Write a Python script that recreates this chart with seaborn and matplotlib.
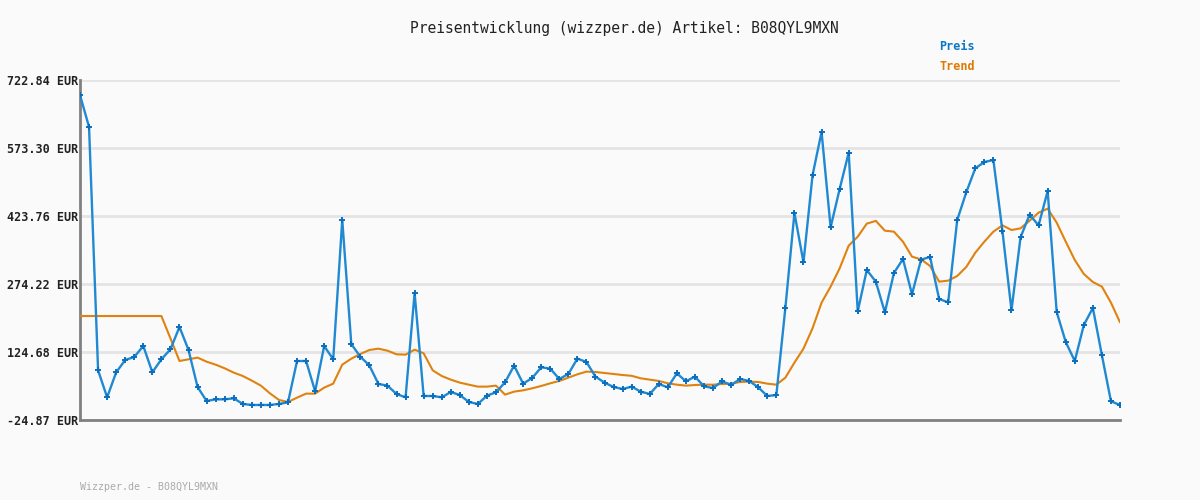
import matplotlib
matplotlib.use("Agg")
import matplotlib.pyplot as plt
import seaborn as sns
import pandas as pd
import numpy as np

title = "Preisentwicklung (wizzper.de) Artikel: B08QYL9MXN"
footer = "Wizzper.de - B08QYL9MXN"
ytick_values = [-24.87, 124.68, 274.22, 423.76, 573.30, 722.84]
ytick_labels = ["-24.87 EUR", "124.68 EUR", "274.22 EUR", "423.76 EUR", "573.30 EUR", "722.84 EUR"]

preis = [
    689.8, 619.5, 84.4, 25.0, 80.0, 107.1, 113.7, 137.9, 80.0, 108.6,
    130.6, 179.7, 129.1, 47.7, 17.0, 20.6, 20.6, 22.8, 10.4, 8.2,
    8.2, 8.2, 10.4, 14.0, 104.9, 104.9, 38.2, 137.9, 108.6, 415.0,
    142.0, 114.4, 95.0, 54.3, 50.7, 32.3, 25.0, 254.4, 27.9, 27.9,
    25.0, 36.7, 30.1, 14.7, 10.4, 28.7, 36.0, 58.0, 94.6, 55.1,
    67.5, 91.0, 88.1, 65.3, 76.3, 110.1, 102.7, 70.5, 57.3, 47.7,
    43.3, 48.5, 37.5, 32.3, 54.3, 47.0, 77.8, 60.2, 70.5, 49.2,
    45.5, 60.2, 52.1, 65.3, 60.9, 47.0, 27.9, 30.1, 222.2, 430.4,
    321.9, 513.2, 608.5, 398.8, 483.1, 563.0, 214.1, 305.0, 279.4, 211.9,
    298.4, 329.2, 251.5, 327.8, 333.6, 241.2, 233.9, 415.0, 475.8, 528.6,
    542.5, 546.9, 390.8, 216.3, 376.8, 426.7, 403.2, 478.7, 212.6, 146.7,
    104.9, 184.1, 221.5, 117.4, 16.2, 8.2,
]

trend = [
    203.8, 203.8, 203.8, 203.8, 203.8, 203.8, 203.8, 203.8, 203.8, 203.8,
    154.7, 104.9, 108.6, 112.3, 103.4, 96.8, 88.8, 79.3, 71.9, 61.7,
    50.7, 33.8, 19.2, 14.8, 24.3, 33.1, 33.1, 46.3, 55.1, 96.8,
    110.0, 120.3, 129.1, 132.0, 127.6, 119.6, 118.8, 129.8, 121.8, 84.4,
    71.9, 63.9, 57.3, 52.8, 48.5, 48.5, 50.7, 30.9, 37.5, 40.4,
    44.8, 50.0, 55.8, 61.0, 68.3, 75.6, 81.5, 80.7, 78.5, 76.3,
    74.1, 72.3, 66.8, 63.9, 61.0, 55.8, 52.8, 50.7, 52.1, 52.8,
    52.8, 54.3, 55.1, 58.7, 59.5, 58.7, 55.1, 52.8, 68.3, 101.3,
    132.0, 176.7, 233.2, 268.4, 308.7, 358.5, 378.3, 407.0, 413.0, 391.5,
    389.3, 367.3, 334.3, 328.5, 313.8, 279.4, 281.6, 291.8, 311.6, 343.1,
    367.3, 389.3, 403.2, 393.0, 396.6, 413.5, 431.1, 439.9, 409.1, 367.3,
    327.0, 296.2, 278.6, 268.4, 233.2, 190.0,
]

sns.set_style("white")
plt.rcParams['font.family'] = ['DejaVu Sans Mono', 'DejaVu Sans']

bg = "#fafafa"
blue_line = "#2089d2"
blue_marker = "#0a6fbf"
orange = "#e0820f"

fig = plt.figure(figsize=(12, 5), dpi=100, facecolor=bg)
ax = fig.add_axes([80/1200, 80/500, 1040/1200, 340/500])
ax.set_facecolor(bg)

idx = list(range(len(preis)))
df = pd.DataFrame({"i": idx, "Preis": preis, "Trend": trend})

ax.set_ylim(ytick_values[0], ytick_values[-1])
ax.set_xlim(0, len(preis) - 1)
ax.set_yticks(ytick_values)
ax.set_yticklabels(ytick_labels)
ax.set_xticks([])
for v in ytick_values:
    ax.axhline(v, color="#e4e4e4", lw=2, zorder=0)

sns.lineplot(data=df, x="i", y="Trend", ax=ax, color=orange, lw=1.5, zorder=3, legend=False)
sns.lineplot(data=df, x="i", y="Preis", ax=ax, color=blue_line, lw=1.7, zorder=4, legend=False,
             marker="+", markersize=4.5, markeredgewidth=1.4, markeredgecolor=blue_marker)

ax.set_xlabel("")
ax.set_ylabel("")
for s in ["top", "right"]:
    ax.spines[s].set_visible(False)
for s in ["left", "bottom"]:
    ax.spines[s].set_color("#808080")
    ax.spines[s].set_linewidth(2)
ax.tick_params(axis="y", length=0, pad=1, labelsize=8.5, labelcolor="#222222")
for t in ax.get_yticklabels():
    t.set_fontweight("bold")

fig.text(624/1200, 1 - 28/500, title, ha="center", va="center", fontsize=10.5, color="#222222")
fig.text(939/1200, 1 - 47/500, "Preis", ha="left", va="center", fontsize=8.5, fontweight="bold", color="#0a78c4")
fig.text(939/1200, 1 - 67/500, "Trend", ha="left", va="center", fontsize=8.5, fontweight="bold", color="#dd7a00")
fig.text(80/1200, 1 - 487/500, footer, ha="left", va="center", fontsize=7.2, color="#aaaaaa")

fig.savefig("out.png", dpi=100, facecolor=bg)
